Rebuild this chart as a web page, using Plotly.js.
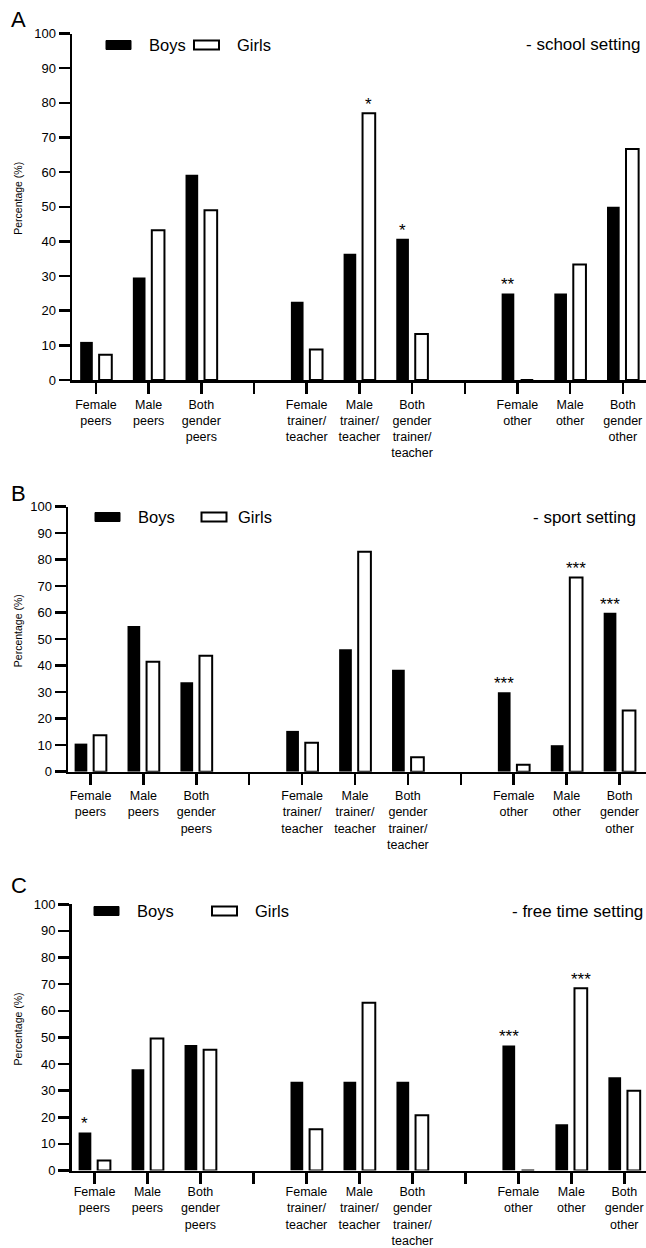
<!DOCTYPE html>
<html>
<head>
<meta charset="utf-8">
<script src="https://cdn.plot.ly/plotly-3.0.1.min.js"></script>
<style>
html,body{margin:0;padding:0;background:#fff;}
#chart{width:646px;height:1248px;}
</style>
</head>
<body>
<div id="chart"></div>
<script>
// ---------------- DATA ----------------
const categories = [
  'Female<br>peers', 'Male<br>peers', 'Both<br>gender<br>peers',
  'Female<br>trainer/<br>teacher', 'Male<br>trainer/<br>teacher', 'Both<br>gender<br>trainer/<br>teacher',
  'Female<br>other', 'Male<br>other', 'Both<br>gender<br>other'
];
const seriesNames = ['Boys', 'Girls'];
const panelLetters = ['A', 'B', 'C'];
const settingLabels = ['- school setting', '- sport setting', '- free time setting'];
const yTickVals = [0, 10, 20, 30, 40, 50, 60, 70, 80, 90, 100];
const yTitle = 'Percentage (%)';

// A - school setting
const schoolBoys  = [11.0, 29.6, 59.2, 22.6, 36.4, 40.8, 25.0, 25.0, 50.0];
const schoolGirls = [7.3, 43.2, 49.0, 8.8, 77.0, 13.3, 0, 33.3, 66.7];
const schoolSigBoys  = ['', '', '', '', '', '*', '**', '', ''];
const schoolSigGirls = ['', '', '', '', '*', '', '', '', ''];

// B - sport setting
const sportBoys  = [10.6, 55.0, 33.8, 15.4, 46.2, 38.5, 30.0, 10.0, 60.0];
const sportGirls = [13.8, 41.5, 43.8, 10.9, 83.0, 5.5, 2.6, 73.3, 23.1];
const sportSigBoys  = ['', '', '', '', '', '', '***', '', '***'];
const sportSigGirls = ['', '', '', '', '', '', '', '***', ''];

// C - free time setting
const freeBoys  = [14.3, 38.0, 47.1, 33.3, 33.3, 33.3, 47.0, 17.4, 35.0];
const freeGirls = [3.8, 49.6, 45.4, 15.5, 63.0, 20.8, 0, 68.5, 30.0];
const freeSigBoys  = ['*', '', '', '', '', '', '***', '', ''];
const freeSigGirls = ['', '', '', '', '', '', '', '***', ''];

// ---------------- LAYOUT HELPERS ----------------
const W = 646, H = 1248;
const FONT = 'Liberation Sans, Arial, sans-serif';
const px = x => x / W;
const py = y => 1 - y / H;

// slot list: 3 groups separated by empty (spacer) slots that keep their own tick
const spacers = ['gap1', 'gap2'];
const slots = [].concat(categories.slice(0,3), [spacers[0]], categories.slice(3,6), [spacers[1]], categories.slice(6,9));
const slotText = slots.map(s => spacers.includes(s) ? '' : s);

const BARGAP = 0.28, BARGROUPGAP = 0.333;
const halfOff = (1 - BARGAP) / 4;

const panels = [
  {boys: schoolBoys, girls: schoolGirls, sb: schoolSigBoys, sg: schoolSigGirls,
   xl: 72, range: [-0.455, 10.44], yTop: 33.5, yBot: 380, letterY: 20, legY: 45, legX: [106, 146.5, 194, 235], setX: 642, standoff: 0},
  {boys: sportBoys, girls: sportGirls, sb: sportSigBoys, sg: sportSigGirls,
   xl: 68, range: [-0.425, 10.5], yTop: 506.7, yBot: 771.7, letterY: 493, legY: 517, legX: [95, 136, 201.5, 236], setX: 638, standoff: 0},
  {boys: freeBoys, girls: freeGirls, sb: freeSigBoys, sg: freeSigGirls,
   xl: 71.5, range: [-0.434, 10.41], yTop: 904.3, yBot: 1170.5, letterY: 885, legY: 911, legX: [94, 135, 212, 253], setX: 645, standoff: -3}
];

const traces = [];
const annotations = [];
const shapes = [];
const layout = {
  width: W, height: H,
  margin: {l: 0, r: 0, t: 0, b: 0},
  paper_bgcolor: '#fff', plot_bgcolor: '#fff',
  showlegend: false,
  barmode: 'group', bargap: BARGAP, bargroupgap: BARGROUPGAP,
  font: {family: FONT, color: '#000'},
  annotations: annotations, shapes: shapes
};

panels.forEach((p, i) => {
  const sfx = i === 0 ? '' : String(i + 1);
  const xa = 'x' + sfx, ya = 'y' + sfx;
  traces.push({
    type: 'bar', name: seriesNames[0], x: categories, y: p.boys,
    xaxis: xa, yaxis: ya,
    marker: {color: '#000', line: {color: '#000', width: 0}},
    hoverinfo: 'skip'
  });
  traces.push({
    type: 'bar', name: seriesNames[1], x: categories, y: p.girls,
    xaxis: xa, yaxis: ya,
    marker: {color: '#fff', line: {color: '#000', width: 2}},
    hoverinfo: 'skip'
  });
  layout['xaxis' + sfx] = {
    domain: [px(p.xl), 1], anchor: ya,
    type: 'category', categoryorder: 'array', categoryarray: slots,
    tickmode: 'array', tickvals: slots, ticktext: slotText,
    range: p.range, fixedrange: true,
    showline: true, linecolor: '#000', linewidth: 2.5,
    ticks: 'outside', ticklen: 11, tickwidth: 2.5, tickcolor: '#000',
    ticklabelstandoff: p.standoff,
    tickfont: {family: FONT, size: 12.5, color: '#000'},
    showgrid: false, zeroline: false, tickangle: 0
  };
  layout['yaxis' + sfx] = {
    domain: [py(p.yBot), py(p.yTop)], anchor: xa,
    range: [0, 100], tickvals: yTickVals, fixedrange: true,
    showline: true, linecolor: '#000', linewidth: 2.5,
    ticks: 'outside', ticklen: 11, tickwidth: 2.5, tickcolor: '#000',
    tickfont: {family: FONT, size: 13, color: '#000'},
    showgrid: false, zeroline: false
  };

  // significance stars
  const addStars = (sig, vals, sign) => {
    sig.forEach((s, k) => {
      if (!s) return;
      annotations.push({
        xref: xa, yref: ya, x: slots.indexOf(categories[k]) + sign * halfOff, y: vals[k],
        text: s, showarrow: false, yanchor: 'bottom', xanchor: 'center', yshift: -3,
        font: {family: FONT, size: 17, color: '#000'}
      });
    });
  };
  addStars(p.sb, p.boys, -1);
  addStars(p.sg, p.girls, 1);

  // panel letter
  annotations.push({xref: 'paper', yref: 'paper', x: px(9), y: py(p.letterY), xanchor: 'left', yanchor: 'middle',
    text: panelLetters[i], showarrow: false, font: {family: FONT, size: 22, color: '#000'}});
  // y title
  annotations.push({xref: 'paper', yref: 'paper', x: px(18), y: py((p.yTop + p.yBot) / 2 - 8), xanchor: 'center', yanchor: 'middle',
    text: yTitle, textangle: -90, showarrow: false, font: {family: FONT, size: 10.5, color: '#000'}});
  // setting label
  annotations.push({xref: 'paper', yref: 'paper', x: px(p.setX), y: py(p.legY), xanchor: 'right', yanchor: 'middle',
    text: settingLabels[i], showarrow: false, font: {family: FONT, size: 17, color: '#000'}});
  // legend
  const [bx, btx, gx, gtx] = p.legX;
  shapes.push({type: 'rect', xref: 'paper', yref: 'paper', x0: px(bx), x1: px(bx + 25), y0: py(p.legY - 4.5), y1: py(p.legY + 4.5),
    fillcolor: '#000', line: {color: '#000', width: 1}});
  shapes.push({type: 'rect', xref: 'paper', yref: 'paper', x0: px(gx), x1: px(gx + 25), y0: py(p.legY - 4.5), y1: py(p.legY + 4.5),
    fillcolor: '#fff', line: {color: '#000', width: 2}});
  annotations.push({xref: 'paper', yref: 'paper', x: px(btx), y: py(p.legY), xanchor: 'left', yanchor: 'middle',
    text: seriesNames[0], showarrow: false, font: {family: FONT, size: 16.5, color: '#000'}});
  annotations.push({xref: 'paper', yref: 'paper', x: px(gtx), y: py(p.legY), xanchor: 'left', yanchor: 'middle',
    text: seriesNames[1], showarrow: false, font: {family: FONT, size: 16.5, color: '#000'}});
});

Plotly.newPlot('chart', traces, layout, {staticPlot: true, displayModeBar: false});
</script>
</body>
</html>
